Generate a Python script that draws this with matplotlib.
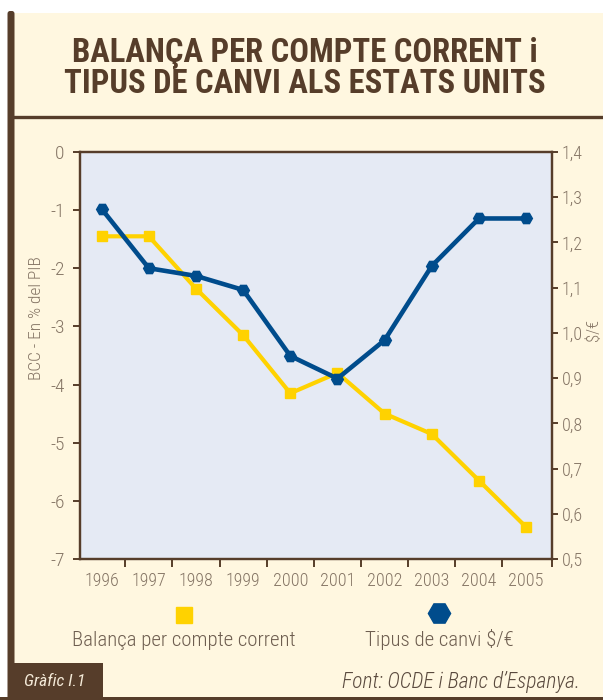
import matplotlib
matplotlib.use("Agg")
import matplotlib.pyplot as plt
from matplotlib.patches import Rectangle, FancyBboxPatch
from matplotlib.lines import Line2D

years = [1996, 1997, 1998, 1999, 2000, 2001, 2002, 2003, 2004, 2005]
balanca = [-1.45, -1.45, -2.35, -3.15, -4.15, -3.8, -4.5, -4.85, -5.65, -6.45]
canvi = [1.274, 1.143, 1.126, 1.095, 0.949, 0.899, 0.984, 1.148, 1.253, 1.253]
left_ticks = [0, -1, -2, -3, -4, -5, -6, -7]
right_ticks = [0.5, 0.6, 0.7, 0.8, 0.9, 1.0, 1.1, 1.2, 1.3, 1.4]

title = "BALANÇA PER COMPTE CORRENT i\nTIPUS DE CANVI ALS ESTATS UNITS"
label_bcc = "Balança per compte corrent"
label_canvi = "Tipus de canvi $/€"

BROWN = "#563d2a"
CREAM = "#fff7e0"
PLOTBG = "#e5eaf4"
YELLOW = "#ffd200"
BLUE = "#004c8c"
TICKC = "#857565"
TEXTC = "#6e5e50"

plt.rcParams["font.family"] = ["Roboto Condensed", "Liberation Sans Narrow",
                               "Liberation Sans", "DejaVu Sans"]

W, H = 603, 700
fig = plt.figure(figsize=(W / 100, H / 100), dpi=100)
fig.patch.set_facecolor("white")


def fx(x):
    return x / W


def fy(y):
    return 1 - y / H


# background panel and frame
fig.patches.append(Rectangle((fx(8), 0), fx(603 - 8), 1 - 13 / H,
                             transform=fig.transFigure, facecolor=CREAM,
                             edgecolor="none", zorder=-3))
fig.patches.append(FancyBboxPatch((fx(7.5), 0), fx(7), (700 - 11) / H,
                                  boxstyle="round,pad=0,rounding_size=0.004",
                                  transform=fig.transFigure, facecolor=BROWN,
                                  edgecolor="none", zorder=-2))
fig.add_artist(Line2D([fx(12), 1], [fy(117), fy(117)], color=BROWN, lw=2.4,
                      transform=fig.transFigure, zorder=-2))
fig.patches.append(Rectangle((0, 0), 1, 3.5 / H, transform=fig.transFigure,
                             facecolor=BROWN, edgecolor="none", zorder=-2))
fig.patches.append(Rectangle((fx(7.5), 0), fx(102.5 - 7.5), (700 - 663) / H,
                             transform=fig.transFigure, facecolor=BROWN,
                             edgecolor="none", zorder=-2))

fig.text(fx(305), fy(68.5), title, ha="center", va="center", fontsize=23.5,
         fontweight="bold", color=BROWN, linespacing=0.98)

# main axes
ax = fig.add_axes([fx(80), fy(559), fx(552 - 80), (559 - 152) / H])
ax.set_facecolor(PLOTBG)
ax.plot(years, balanca, color=YELLOW, lw=3.0, marker="s", ms=7,
        solid_joinstyle="miter", zorder=3)
ax.set_xlim(1995.54, 2005.55)
ax.set_ylim(-7, 0)
ax.set_yticks(left_ticks)
ax.set_yticklabels([str(v) for v in left_ticks], fontweight="light")
ax.set_xticks(years)
ax.set_xticklabels([str(y) for y in years], fontweight="light")
ax.set_xticks([y + 0.5 for y in years[:-1]] + [ax.get_xlim()[1]], minor=True)
ax.tick_params(axis="x", which="major", length=0, pad=9, labelsize=13,
               labelcolor=TICKC)
ax.tick_params(axis="x", which="minor", length=6, width=1.4, color=BROWN,
               direction="out")
ax.tick_params(axis="y", length=5, width=1.4, color=BROWN, pad=6,
               labelsize=14, labelcolor=TICKC)
for s in ax.spines.values():
    s.set_color(BROWN)
    s.set_linewidth(1.6)

ax2 = ax.twinx()
ax2.plot(years, canvi, color=BLUE, lw=3.3, marker="H", ms=8.5, zorder=4)
ax2.set_ylim(0.5, 1.4)
ax2.set_yticks(right_ticks)
ax2.set_yticklabels([f"{v:.1f}".replace(".", ",") for v in right_ticks],
                    fontweight="light")
ax2.tick_params(axis="y", length=4, width=1.4, color=BROWN, pad=3,
                labelsize=13, labelcolor=TICKC)
for s in ax2.spines.values():
    s.set_color(BROWN)
    s.set_linewidth(1.6)

fig.text(fx(36.5), fy(318), "BCC - En % del PIB", rotation=90, ha="center",
         va="center", fontsize=12.5, fontweight="light", color=TICKC)
fig.text(fx(593), fy(330), "$/€", rotation=90, ha="center", va="center",
         fontsize=12, fontweight="light", color=TICKC)

# legend
fig.add_artist(Line2D([fx(184.3)], [fy(615)], marker="s", ms=11, color=YELLOW,
                      lw=0, transform=fig.transFigure))
fig.add_artist(Line2D([fx(439)], [fy(613)], marker="H", ms=16, color=BLUE,
                      lw=0, transform=fig.transFigure))
fig.text(fx(184), fy(641), label_bcc, ha="center", va="center", fontsize=15,
         fontweight="light", color=TEXTC)
fig.text(fx(439), fy(639), label_canvi, ha="center", va="center",
         fontsize=15, fontweight="light", color=TEXTC)

fig.text(fx(24), fy(682), "Gràfic I.1", ha="left", va="center", fontsize=12.5,
         style="italic", color="#f4ead8")
fig.text(fx(580), fy(682), "Font: OCDE i Banc d’Espanya.", ha="right",
         va="center", fontsize=15.5, style="italic", fontweight="light",
         color="#5a4a3e")

fig.savefig("out.png", dpi=100, facecolor=fig.get_facecolor())
